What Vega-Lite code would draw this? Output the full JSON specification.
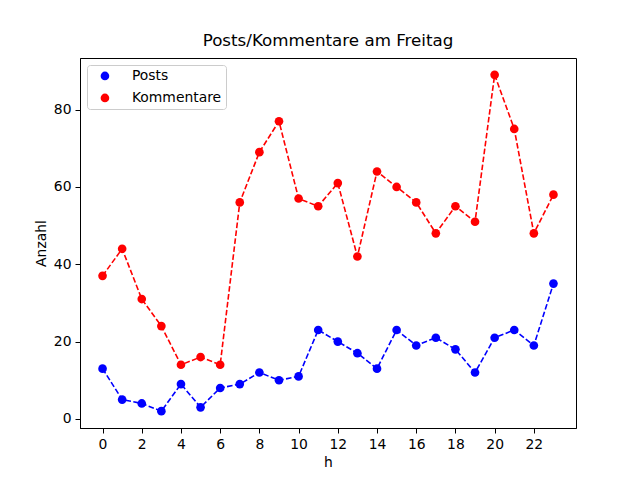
{
  "$schema": "https://vega.github.io/schema/vega-lite/v6.json",
  "width": 496,
  "height": 370,
  "autosize": {"type": "none"},
  "padding": {"left": 80, "top": 58, "right": 64, "bottom": 52},
  "background": "white",
  "title": {
    "text": "Posts/Kommentare am Freitag",
    "font": "DejaVu Sans",
    "fontSize": 16.7,
    "fontWeight": "normal",
    "color": "black",
    "anchor": "middle",
    "offset": 8
  },
  "config": {
    "view": {"stroke": "black", "strokeWidth": 1},
    "axis": {
      "grid": false,
      "domainColor": "black",
      "tickColor": "black",
      "tickSize": 5,
      "labelPadding": 4,
      "labelFont": "DejaVu Sans",
      "labelFontSize": 13.9,
      "labelColor": "black",
      "titleFont": "DejaVu Sans",
      "titleFontSize": 13.9,
      "titleFontWeight": "normal",
      "titleColor": "black",
      "titlePadding": 5
    },
    "legend": {
      "title": null,
      "orient": "top-left",
      "offset": 7,
      "padding": 4,
      "symbolOffset": 7,
      "symbolType": "circle",
      "symbolSize": 75,
      "symbolStrokeWidth": 0,
      "labelOffset": 20,
      "rowPadding": 7,
      "labelFont": "DejaVu Sans",
      "labelFontSize": 13.9,
      "labelColor": "black",
      "strokeColor": "#cccccc",
      "fillColor": "white",
      "cornerRadius": 3
    }
  },
  "data": {
    "values": [
      {"h": 0, "serie": "Posts", "Anzahl": 13},
      {"h": 1, "serie": "Posts", "Anzahl": 5},
      {"h": 2, "serie": "Posts", "Anzahl": 4},
      {"h": 3, "serie": "Posts", "Anzahl": 2},
      {"h": 4, "serie": "Posts", "Anzahl": 9},
      {"h": 5, "serie": "Posts", "Anzahl": 3},
      {"h": 6, "serie": "Posts", "Anzahl": 8},
      {"h": 7, "serie": "Posts", "Anzahl": 9},
      {"h": 8, "serie": "Posts", "Anzahl": 12},
      {"h": 9, "serie": "Posts", "Anzahl": 10},
      {"h": 10, "serie": "Posts", "Anzahl": 11},
      {"h": 11, "serie": "Posts", "Anzahl": 23},
      {"h": 12, "serie": "Posts", "Anzahl": 20},
      {"h": 13, "serie": "Posts", "Anzahl": 17},
      {"h": 14, "serie": "Posts", "Anzahl": 13},
      {"h": 15, "serie": "Posts", "Anzahl": 23},
      {"h": 16, "serie": "Posts", "Anzahl": 19},
      {"h": 17, "serie": "Posts", "Anzahl": 21},
      {"h": 18, "serie": "Posts", "Anzahl": 18},
      {"h": 19, "serie": "Posts", "Anzahl": 12},
      {"h": 20, "serie": "Posts", "Anzahl": 21},
      {"h": 21, "serie": "Posts", "Anzahl": 23},
      {"h": 22, "serie": "Posts", "Anzahl": 19},
      {"h": 23, "serie": "Posts", "Anzahl": 35},
      {"h": 0, "serie": "Kommentare", "Anzahl": 37},
      {"h": 1, "serie": "Kommentare", "Anzahl": 44},
      {"h": 2, "serie": "Kommentare", "Anzahl": 31},
      {"h": 3, "serie": "Kommentare", "Anzahl": 24},
      {"h": 4, "serie": "Kommentare", "Anzahl": 14},
      {"h": 5, "serie": "Kommentare", "Anzahl": 16},
      {"h": 6, "serie": "Kommentare", "Anzahl": 14},
      {"h": 7, "serie": "Kommentare", "Anzahl": 56},
      {"h": 8, "serie": "Kommentare", "Anzahl": 69},
      {"h": 9, "serie": "Kommentare", "Anzahl": 77},
      {"h": 10, "serie": "Kommentare", "Anzahl": 57},
      {"h": 11, "serie": "Kommentare", "Anzahl": 55},
      {"h": 12, "serie": "Kommentare", "Anzahl": 61},
      {"h": 13, "serie": "Kommentare", "Anzahl": 42},
      {"h": 14, "serie": "Kommentare", "Anzahl": 64},
      {"h": 15, "serie": "Kommentare", "Anzahl": 60},
      {"h": 16, "serie": "Kommentare", "Anzahl": 56},
      {"h": 17, "serie": "Kommentare", "Anzahl": 48},
      {"h": 18, "serie": "Kommentare", "Anzahl": 55},
      {"h": 19, "serie": "Kommentare", "Anzahl": 51},
      {"h": 20, "serie": "Kommentare", "Anzahl": 89},
      {"h": 21, "serie": "Kommentare", "Anzahl": 75},
      {"h": 22, "serie": "Kommentare", "Anzahl": 48},
      {"h": 23, "serie": "Kommentare", "Anzahl": 58}
    ]
  },
  "encoding": {
    "x": {
      "field": "h",
      "type": "quantitative",
      "scale": {"domain": [-1.15, 24.15], "nice": false, "zero": false},
      "axis": {"title": "h", "values": [0, 2, 4, 6, 8, 10, 12, 14, 16, 18, 20, 22]}
    },
    "y": {
      "field": "Anzahl",
      "type": "quantitative",
      "scale": {"domain": [-2.35, 93.35], "nice": false, "zero": false},
      "axis": {"title": "Anzahl", "values": [0, 20, 40, 60, 80]}
    },
    "color": {
      "field": "serie",
      "type": "nominal",
      "sort": ["Posts", "Kommentare"],
      "scale": {"domain": ["Posts", "Kommentare"], "range": ["#0000ff", "#ff0000"]}
    }
  },
  "layer": [
    {
      "mark": {"type": "line", "strokeWidth": 1.6, "strokeDash": [5.6, 2.4]}
    },
    {
      "mark": {"type": "point", "shape": "circle", "filled": true, "opacity": 1, "size": 75}
    }
  ]
}
